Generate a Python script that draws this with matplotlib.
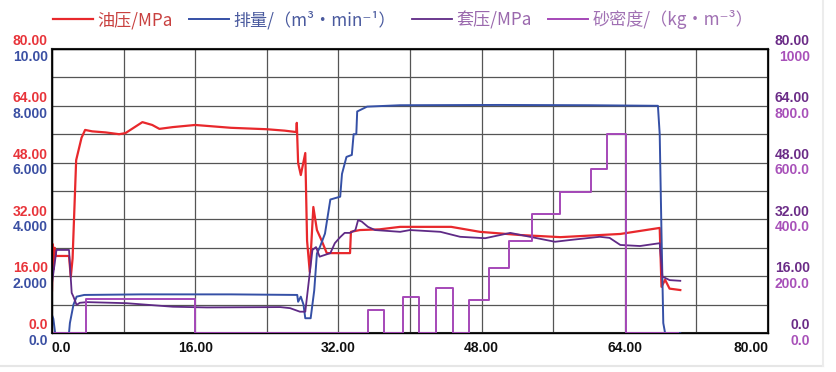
import matplotlib
matplotlib.use("Agg")
import matplotlib.pyplot as plt
import matplotlib.transforms as mtransforms
import numpy as np

plt.rcParams['font.family'] = ['Noto Sans CJK SC', 'DejaVu Sans']

# time, min
red_x = [0, 0.1, 0.2, 0.3, 0.45, 0.6, 1.9, 2.1, 2.3, 2.7, 3.3, 3.7, 4.5, 6.0, 7.5, 8.2,
         10.1, 11.2, 12.0, 13.5, 16.0, 18.0, 20.0, 22.0, 24.0, 26.0, 27.3, 27.35, 27.5,
         27.8, 28.3, 28.5, 28.8, 29.2, 29.6, 30.1, 30.7, 33.3, 33.4, 34.4, 36.6, 38.9,
         40.0, 44.6, 47.8, 52.3, 56.8, 63.5, 67.9, 68.1, 68.5, 69.0, 70.2]
red_y = [12, 25, 18, 24, 21.7, 21.7, 21.7, 15.8, 21, 48.7, 55, 57.2, 56.8, 56.5, 56, 56.3,
         59.4, 58.6, 57.5, 58, 58.6, 58.2, 57.8, 57.6, 57.4, 57.0, 56.6, 59.2, 47.9,
         44.5, 50.7, 26, 17.2, 35.5, 29, 26.2, 22.5, 22.5, 28.5, 29, 29.2, 29.9,
         29.9, 29.9, 28.5, 27.6, 27.0, 27.9, 29.6, 13, 15, 12.5, 12.1]

blue_x = [0, 0.15, 0.35, 1.9, 2.0, 2.4, 2.75, 3.6, 10, 20, 27.4, 27.5, 27.8, 28.1, 28.3,
          28.9, 29.3, 29.6, 29.9, 30.5, 31.1, 32.2, 32.4, 32.9, 33.5, 33.7, 34.0, 34.1,
          35.2, 38.9, 50, 60, 67.7, 67.9, 68.1, 68.3, 68.5, 70.2]
blue_y = [0.63, 0.5, 0, 0, 0.35, 1.0, 1.28, 1.34, 1.36, 1.36, 1.34, 1.1, 1.28, 1.0, 0.52,
          0.52, 1.5, 2.8, 3.0, 3.5, 4.7, 4.8, 5.6, 6.2, 6.27, 7.0, 7.0, 7.8,
          7.97, 8.02, 8.03, 8.02, 8.0, 7.0, 3.5, 0.35, 0, 0]

casing_x = [0, 0.5, 1.9, 2.2, 2.4, 2.75, 3.1, 3.9, 8.3, 13.5, 17.3, 25.5, 26.6, 27.7, 28.3,
            28.8, 29.1, 29.5, 29.9, 31.1, 31.6, 32.2, 32.7, 33.3, 33.9, 34.2, 34.6, 35.3,
            36.1, 38.9, 40.0, 43.4, 45.6, 48.4, 51.2, 53.4, 56.2, 57.9, 61.2, 62.3, 63.5,
            65.7, 67.9, 68.2, 69.0, 70.2]
casing_y = [14, 23.4, 23.4, 11.3, 10.2, 7.9, 8.5, 8.7, 8.4, 7.4, 7.2, 7.3, 7.0, 6.0, 6.0,
            16.9, 23.4, 24.2, 21.5, 22.5, 25.3, 27.0, 28.2, 28.2, 29.0, 31.8, 31.4, 29.9,
            29.0, 28.5, 29.0, 28.5, 27.1, 26.7, 28.2, 27.1, 25.7, 26.2, 27.1, 26.8,
            24.8, 24.5, 25.3, 15.9, 14.9, 14.7]

sand_x = [0, 3.8, 16.0, 35.3, 37.1, 39.2, 41.0, 42.9, 44.8, 46.6, 48.8, 51.1, 53.6, 56.8,
          60.2, 62.0, 64.1, 69.9]
sand_y = [0, 120, 0, 80, 0, 128, 0, 157, 0, 116, 228, 325, 418, 497, 576, 700, 0, 0]

x_ticks = [0, 16, 32, 48, 64, 80]
x_labels = ["0.0", "16.00", "32.00", "48.00", "64.00", "80.00"]
red_ticks = [0, 16, 32, 48, 64, 80]
red_labels = ["0.0", "16.00", "32.00", "48.00", "64.00", "80.00"]
blue_ticks = [0, 2, 4, 6, 8, 10]
blue_labels = ["0.0", "2.000", "4.000", "6.000", "8.000", "10.00"]
casing_ticks = [0, 16, 32, 48, 64, 80]
casing_labels = ["0.0", "16.00", "32.00", "48.00", "64.00", "80.00"]
sand_ticks = [0, 200, 400, 600, 800, 1000]
sand_labels = ["0.0", "200.0", "400.0", "600.0", "800.0", "1000"]

c_red = "#e8282c"
c_blue = "#3550a6"
c_casing = "#5f2a86"
c_sand = "#a548b8"

fig = plt.figure(figsize=(8.36, 3.72), dpi=100)
ax = fig.add_axes([52/836, 39/372, 716/836, 284/372])
ax_b = ax.twinx()
ax_c = ax.twinx()
ax_s = ax.twinx()

ax.set_xlim(0, 80)
ax.set_ylim(0, 80)
ax_b.set_ylim(0, 10)
ax_c.set_ylim(0, 80)
ax_s.set_ylim(0, 1000)

ax.set_xticks(np.arange(0, 81, 8))
ax.set_yticks(np.arange(0, 81, 8))
ax.grid(True, color="#555555", lw=0.9)
ax.tick_params(length=0, labelleft=False, labelbottom=False)
for a in (ax_b, ax_c, ax_s):
    a.set_yticks([])
    a.tick_params(length=0)
for sp in ax.spines.values():
    sp.set_linewidth(1.5)
    sp.set_color("#222222")

l_sand, = ax_s.plot(sand_x, sand_y, color=c_sand, lw=1.4, drawstyle="steps-post")
l_blue, = ax_b.plot(blue_x, blue_y, color=c_blue, lw=1.4)
l_red, = ax.plot(red_x, red_y, color=c_red, lw=1.6, zorder=3)
l_cas, = ax_c.plot(casing_x, casing_y, color=c_casing, lw=1.3)

def put_labels(axis, ticks, labels, color, side, dy):
    base = mtransforms.blended_transform_factory(ax.transAxes, axis.transData)
    if side == "left":
        tr = mtransforms.offset_copy(base, fig=fig, x=-3, y=dy, units="points")
        xa = 0
    else:
        tr = mtransforms.offset_copy(base, fig=fig, x=30, y=dy, units="points")
        xa = 1
    for t, s in zip(ticks, labels):
        fig.text(xa, t, s, transform=tr, ha="right", va="center", color=color,
                 fontsize=10, fontweight="bold", family="Liberation Sans")

put_labels(ax, red_ticks, red_labels, "#e8343a", "left", 5.6)
put_labels(ax_b, blue_ticks, blue_labels, "#3a4fa3", "left", -5.6)
put_labels(ax_c, casing_ticks, casing_labels, "#6b2c87", "right", 5.6)
put_labels(ax_s, sand_ticks, sand_labels, "#a851b9", "right", -5.6)

xtr = mtransforms.offset_copy(ax.get_xaxis_transform(), fig=fig, x=0, y=-6, units="points")
for t, s in zip(x_ticks, x_labels):
    ha = "left" if t == x_ticks[0] else ("right" if t == x_ticks[-1] else "center")
    ax.text(t, 0, s, transform=xtr, ha=ha, va="top", fontsize=10, fontweight="bold",
            family="Liberation Sans", color="#111111")

fig.legend([l_red, l_blue, l_cas, l_sand],
           ["油压/MPa", "排量/（m³•min⁻¹）", "套压/MPa", "砂密度/（kg•m⁻³）"],
           loc="upper left", bbox_to_anchor=(43/836, 1.0), ncol=4, frameon=False,
           fontsize=12.3, handlelength=2.3, handletextpad=0.3, columnspacing=0.95,
           labelcolor=["#c8403f", "#4a5a9e", "#9a68ad", "#a070b3"], borderaxespad=0.2)

fig.add_artist(plt.Line2D([0, 823/836], [6/372, 6/372], color="#e6e6e6", lw=1.5,
                          transform=fig.transFigure))
fig.add_artist(plt.Line2D([823/836, 823/836], [6/372, 1], color="#ececec", lw=1.5,
                          transform=fig.transFigure))

fig.savefig("out.png", dpi=100)
